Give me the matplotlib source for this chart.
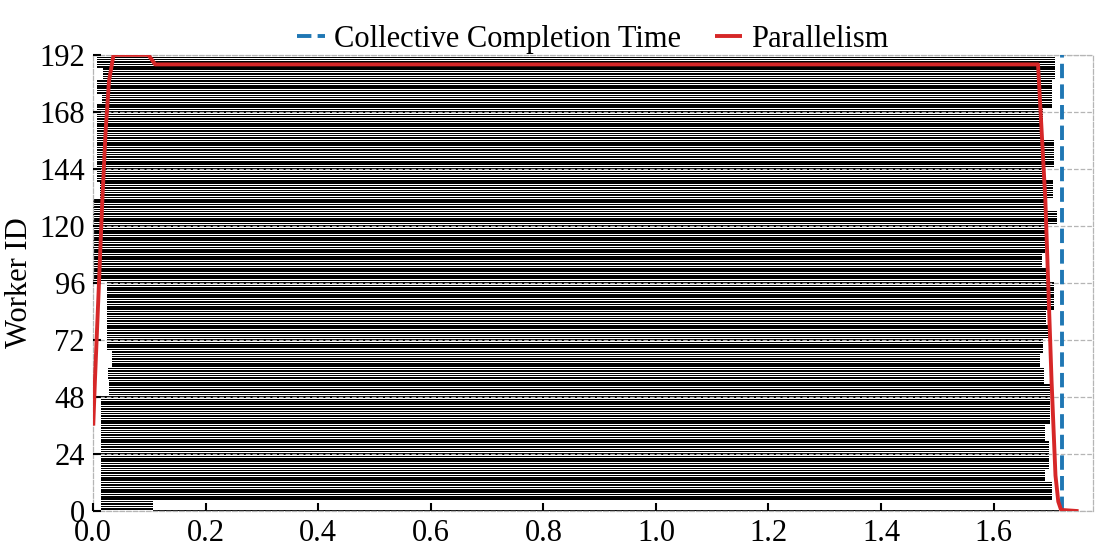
import matplotlib
matplotlib.use("Agg")
import matplotlib.pyplot as plt
import numpy as np

plt.rcParams['font.family'] = ['Liberation Serif', 'DejaVu Serif']
plt.rcParams['mathtext.fontset'] = 'stix'

# ---- data ----
# (first worker, last worker inclusive, bar start time)
start_groups = [
    (0, 0, 0.107),
    (1, 48, 0.014),
    (49, 55, 0.028),
    (56, 60, 0.027),
    (61, 67, 0.033),
    (68, 96, 0.024),
    (97, 131, 0.0),
    (132, 138, 0.012),
    (139, 171, 0.007),
    (172, 175, 0.015),
    (176, 181, 0.007),
    (182, 186, 0.017),
    (187, 191, 0.007),
]
# (first worker, last worker inclusive, bar end time)
end_groups = [
    (0, 0, 1.716),
    (1, 4, 0.107),
    (5, 12, 1.703),
    (13, 17, 1.692),
    (18, 29, 1.698),
    (30, 36, 1.692),
    (37, 53, 1.700),
    (54, 60, 1.689),
    (61, 66, 1.683),
    (67, 72, 1.688),
    (73, 78, 1.698),
    (79, 84, 1.693),
    (85, 96, 1.707),
    (97, 102, 1.693),
    (103, 108, 1.686),
    (109, 120, 1.692),
    (121, 126, 1.712),
    (127, 131, 1.691),
    (132, 139, 1.705),
    (140, 144, 1.688),
    (145, 156, 1.707),
    (157, 169, 1.688),
    (170, 181, 1.704),
    (182, 191, 1.710),
]

par_time = [0.0, 0.003, 0.010, 0.016, 0.022, 0.028, 0.036, 0.098, 0.110,
            1.679, 1.692, 1.703, 1.710, 1.715, 1.720, 1.751]
par_value = [36, 55, 95, 130, 160, 181, 192, 192, 188,
             188, 131, 55, 15, 4, 0.5, 0]

completion_time = 1.721
n_workers = 192

# expand groups per worker
worker_ids = np.arange(n_workers)
starts = np.zeros(n_workers)
ends = np.zeros(n_workers)
for a, b, v in start_groups:
    starts[a:b + 1] = v
for a, b, v in end_groups:
    ends[a:b + 1] = v

fig = plt.figure(figsize=(10.97, 5.49), dpi=100)
ax = fig.add_axes([0.085, 0.069, 0.911, 0.831])

ax.barh(worker_ids, ends - starts, left=starts, height=0.65,
        color='black', linewidth=0, zorder=2)

ax.plot(par_time, par_value, color='#d62728', lw=2.8, zorder=4,
        label='Parallelism', solid_capstyle='butt')
ax.axvline(completion_time, color='#1f77b4', lw=2.8, ls='--', zorder=3,
           label='Collective Completion Time')

ax.set_xlim(0, 1.776)
ax.set_ylim(0, 192)
ax.set_yticks(np.arange(0, 193, 24))
ax.set_xticks(np.arange(0, 1.61, 0.2))
ax.set_xticklabels([f"{v:.1f}" for v in np.arange(0, 1.61, 0.2)])

ax.grid(axis='y', linestyle='--', color='#b5b5b5', lw=0.9, zorder=3)
ax.set_axisbelow(False)
for s in ax.spines.values():
    s.set_linestyle('--')
    s.set_color('#b5b5b5')
    s.set_linewidth(0.9)

ax.tick_params(axis='both', direction='in', length=6, width=1.5,
               color='black', labelsize=22, pad=6)
ax.set_ylabel('Worker ID', fontsize=22, labelpad=4)

handles, labels = ax.get_legend_handles_labels()
order = [1, 0]
ax.legend([handles[i] for i in order], [labels[i] for i in order],
          loc='lower center', bbox_to_anchor=(0.5, 0.995), ncol=2,
          frameon=False, fontsize=22, handlelength=0.9,
          handletextpad=0.3, columnspacing=1.1, borderaxespad=0.0,
          borderpad=0.1)

fig.savefig('out.png', dpi=100)
